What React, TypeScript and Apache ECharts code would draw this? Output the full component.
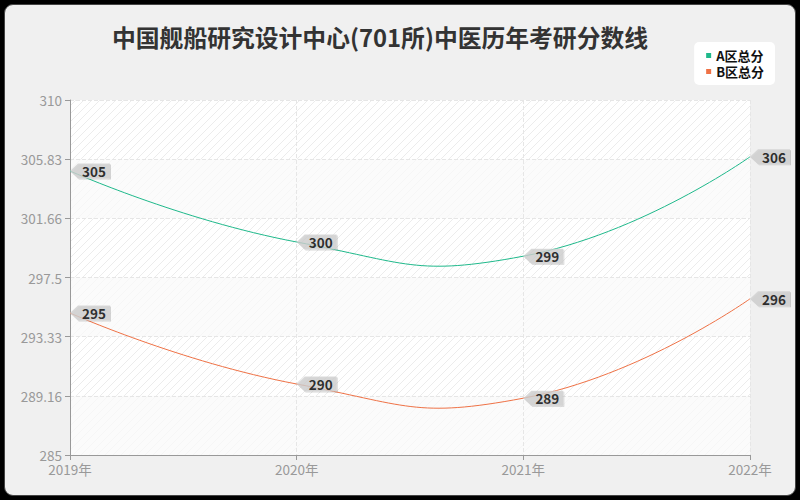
import React, { useEffect, useRef } from "react";
import * as echarts from "echarts";

const categories = ["2019年", "2020年", "2021年", "2022年"];
const seriesNames = ["A区总分", "B区总分"];
const seriesA = [305, 300, 299, 306];
const seriesB = [295, 290, 289, 296];
const colors = ["#1fb98b", "#ef7246"];

const FONT = "Noto Sans CJK SC";
const SMOOTH = 0.5;

function makeHatch(): string {
  const c = document.createElement("canvas");
  c.width = 8;
  c.height = 8;
  const ctx = c.getContext("2d");
  if (!ctx) return "";
  ctx.fillStyle = "#ffffff";
  ctx.fillRect(0, 0, 8, 8);
  ctx.strokeStyle = "#ececec";
  ctx.lineWidth = 1;
  ctx.beginPath();
  ctx.moveTo(0, 8);
  ctx.lineTo(8, 0);
  ctx.moveTo(-4, 4);
  ctx.lineTo(4, -4);
  ctx.moveTo(4, 12);
  ctx.lineTo(12, 4);
  ctx.stroke();
  return c.toDataURL();
}

const TAG = "path://M0,8 L8,0 L40,0 L40,16 L8,16 Z";

function tagSeries(name: string, data: number[]) {
  return {
    name,
    type: "scatter",
    data,
    symbol: TAG,
    symbolSize: [40, 15],
    symbolOffset: [20, 0],
    clip: false,
    z: 5,
    itemStyle: {
      color: "#d0d0d0",
      shadowColor: "rgba(0,0,0,0.2)",
      shadowOffsetY: 1,
      shadowOffsetX: 1,
      shadowBlur: 0,
    },
    label: {
      show: true,
      position: "inside",
      offset: [4, 0],
      color: "#000",
      fontFamily: FONT,
      fontSize: 13.5,
      fontWeight: "bold",
      formatter: (p: any) => String(p.value),
    },
    emphasis: { disabled: true },
    silent: true,
  };
}

// Smooth curve (unconstrained bezier smoothing) drawn through the axis scales
function curveSeries(name: string, values: number[], color: string) {
  return {
    name,
    type: "custom",
    data: values.map((v, i) => [i, v]),
    encode: { x: 0, y: 1 },
    z: 3,
    itemStyle: { color },
    silent: true,
    renderItem: (params: any, api: any) => {
      const i = params.dataIndex;
      const n = values.length;
      if (i >= n - 1) return null;
      const pts = values.map((v, j) => api.coord([j, v]));
      const ctrl = (k: number, after: boolean) => {
        const p = pts[k];
        if (k === 0 || k === n - 1) return p;
        const prev = pts[k - 1];
        const next = pts[k + 1];
        const vx = (next[0] - prev[0]) * SMOOTH;
        const vy = (next[1] - prev[1]) * SMOOTH;
        const d0 = Math.hypot(p[0] - prev[0], p[1] - prev[1]);
        const d1 = Math.hypot(next[0] - p[0], next[1] - p[1]);
        const s = d0 + d1 || 1;
        return after
          ? [p[0] + (vx * d1) / s, p[1] + (vy * d1) / s]
          : [p[0] - (vx * d0) / s, p[1] - (vy * d0) / s];
      };
      const a = pts[i];
      const b = pts[i + 1];
      const c1 = ctrl(i, true);
      const c2 = ctrl(i + 1, false);
      return {
        type: "bezierCurve",
        shape: {
          x1: a[0],
          y1: a[1],
          cpx1: c1[0],
          cpy1: c1[1],
          cpx2: c2[0],
          cpy2: c2[1],
          x2: b[0],
          y2: b[1],
        },
        style: { stroke: color, fill: "none", lineWidth: 1 },
      };
    },
  };
}

export default function App() {
  const ref = useRef<HTMLDivElement>(null);
  useEffect(() => {
    if (!ref.current) return;
    const chart = echarts.init(ref.current, undefined, { renderer: "svg" });
    const hatch = makeHatch();
    chart.setOption({
      animation: false,
      backgroundColor: "transparent",
      textStyle: { fontFamily: FONT },
      title: {
        text: "中国舰船研究设计中心(701所)中医历年考研分数线",
        left: 107,
        top: 20,
        textStyle: { fontFamily: FONT, fontSize: 23.8, fontWeight: "bold", color: "#333" },
      },
      legend: {
        data: seriesNames.map((n, i) => ({ name: n, itemStyle: { color: colors[i] } })),
        orient: "vertical",
        right: 25,
        top: 42,
        icon: "rect",
        itemWidth: 5,
        itemHeight: 5,
        itemGap: 3,
        backgroundColor: "#ffffff",
        borderRadius: 5,
        padding: [7, 11, 7, 12],
        textStyle: {
          fontFamily: FONT,
          fontSize: 13,
          lineHeight: 13,
          color: "#111",
          fontWeight: "bold",
        },
      },
      grid: {
        left: 70,
        right: 50,
        top: 100,
        bottom: 45,
        show: true,
        borderWidth: 0,
        backgroundColor: hatch ? { image: hatch, repeat: "repeat" } : "#fafafa",
      },
      xAxis: {
        type: "category",
        data: categories,
        boundaryGap: false,
        axisLine: { lineStyle: { color: "#999" } },
        axisTick: { lineStyle: { color: "#999" } },
        axisLabel: { color: "#999", fontSize: 13.5, fontFamily: FONT, margin: 7 },
        splitLine: { show: true, lineStyle: { color: "#e6e6e6", type: "dashed" } },
      },
      yAxis: {
        type: "value",
        min: 285,
        max: 310,
        interval: 25 / 6,
        axisLine: { show: true, lineStyle: { color: "#999" } },
        axisTick: { show: true, lineStyle: { color: "#999" } },
        axisLabel: {
          color: "#999",
          fontSize: 13.5,
          fontFamily: FONT,
          formatter: (v: number) => String(Math.floor(v * 100 + 1e-6) / 100),
        },
        splitLine: { show: true, lineStyle: { color: "#e6e6e6", type: "dashed" } },
        splitArea: {
          show: true,
          areaStyle: { color: ["rgba(250,250,250,0.75)", "rgba(255,255,255,0)"] },
        },
      },
      series: [
        curveSeries(seriesNames[0], seriesA, colors[0]),
        curveSeries(seriesNames[1], seriesB, colors[1]),
        tagSeries(seriesNames[0], seriesA),
        tagSeries(seriesNames[1], seriesB),
      ],
    });
    return () => chart.dispose();
  }, []);
  return (
    <div style={{ position: "fixed", left: 0, top: 0, width: 800, height: 500, background: "#000" }}>
      <div
        style={{
          position: "absolute",
          left: 4,
          top: 4,
          width: 790,
          height: 490,
          borderRadius: 9,
          background: "#f0f0f0",
          border: "1px solid #444",
        }}
      />
      <div ref={ref} style={{ position: "absolute", left: 0, top: 0, width: 800, height: 500 }} />
    </div>
  );
}
